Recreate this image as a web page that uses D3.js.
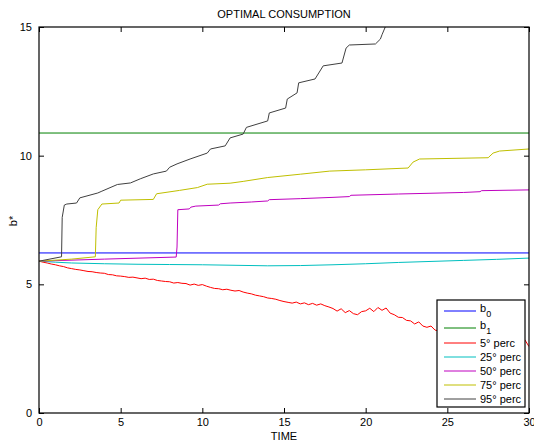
<!DOCTYPE html>
<html><head><meta charset="utf-8">
<script src="https://cdn.jsdelivr.net/npm/d3@7"></script>
<style>
body{margin:0;background:#fff;}
svg{display:block;font-family:"Liberation Sans",Arial,sans-serif;}
</style></head>
<body><svg id="chart" width="534" height="442"></svg>
<script>
// ---- data ----
const title = "OPTIMAL CONSUMPTION";
const xLabel = "TIME";
const yLabel = "b*";
const xTicks = [0,5,10,15,20,25,30];
const yTicks = [0,5,10,15];

const b0 = 6.22;
const b1 = 10.88;

const redStep = 0.25;
const perc5 = [5.90,5.86,5.83,5.79,5.76,5.72,5.69,5.64,5.61,5.58,5.56,5.53,5.50,5.49,5.46,5.44,5.43,5.38,5.37,5.33,
5.32,5.30,5.27,5.28,5.25,5.22,5.24,5.19,5.20,5.15,5.13,5.11,5.10,5.05,5.07,5.04,5.03,4.97,5.01,4.96,
4.99,4.93,4.88,4.84,4.83,4.79,4.81,4.77,4.74,4.76,4.70,4.66,4.63,4.58,4.55,4.52,4.47,4.45,4.42,4.37,
4.33,4.30,4.27,4.31,4.24,4.28,4.21,4.26,4.19,4.24,4.17,4.12,4.06,3.96,4.05,3.90,3.98,3.86,3.82,3.94,
3.97,4.07,3.94,4.10,3.99,4.08,3.88,3.82,3.72,3.71,3.60,3.58,3.46,3.54,3.38,3.33,3.38,3.22,3.19,3.24,
3.10,3.18,3.03,3.11,2.96,3.05,2.94,3.02,2.90,2.99,2.86,2.95,2.82,2.90,2.77,2.85,2.72,2.80,2.68,2.84,2.58];

const perc25T = [0,1,2,4,6,8,10,12,14,16,18,20,22,24,26,28,30];
const perc25V = [5.90,5.86,5.83,5.80,5.78,5.77,5.76,5.74,5.72,5.73,5.76,5.80,5.85,5.89,5.93,5.97,6.02];

const perc50T = [0,4,8.4,8.45,8.5,9.2,9.3,9.6,11.0,11.1,11.7,13,14,14.1,16,18,19,19.1,22,24,26,27,27.1,30];
const perc50V = [5.90,5.98,6.06,6.45,7.90,7.93,8.00,8.04,8.08,8.13,8.16,8.20,8.24,8.29,8.33,8.38,8.41,8.46,8.51,8.54,8.57,8.60,8.64,8.67];

const perc75T = [0,2,3.45,3.5,3.6,3.85,4.9,5.0,7.0,7.2,8.6,9.7,10.3,11.7,12.5,14,16,17.8,20,22.6,22.9,23.3,27.5,27.8,28.2,30];
const perc75V = [5.90,5.98,6.07,7.20,7.90,8.12,8.16,8.27,8.30,8.52,8.65,8.76,8.89,8.93,9.00,9.15,9.28,9.40,9.45,9.52,9.75,9.87,9.92,10.10,10.18,10.26];

const perc95T = [0,1.38,1.42,1.55,1.7,2.3,2.5,3.6,3.85,4.8,5.6,6.2,7.0,7.8,8.0,8.45,9.25,10.3,10.5,11.4,11.7,12.5,12.7,14.0,14.1,15.1,15.2,15.8,15.9,16.9,17.4,18.55,18.8,19.0,20.6,20.9,21.0,21.2,21.5];
const perc95V = [5.90,6.07,7.60,8.08,8.12,8.16,8.36,8.55,8.62,8.88,8.94,9.10,9.29,9.40,9.55,9.68,9.87,10.10,10.26,10.38,10.69,10.84,11.10,11.35,11.66,11.85,12.20,12.44,12.83,12.98,13.49,13.60,14.18,14.30,14.34,14.53,14.70,15.00,15.40];

const legendLabels = [["b","0"],["b","1"],["5° perc"],["25° perc"],["50° perc"],["75° perc"],["95° perc"]];
const colors = ["#0000ff","#008000","#ff0000","#00bfbf","#bf00bf","#bfbf00","#404040"];

// ---- layout ----
const svg = d3.select("#chart");
const L = 39, R = 529, T = 27, B = 413;
const x = d3.scaleLinear().domain([0,30]).range([L,R]);
const y = d3.scaleLinear().domain([0,15]).range([B,T]);

svg.append("defs").append("clipPath").attr("id","clip")
  .append("rect").attr("x",L).attr("y",T).attr("width",R-L).attr("height",B-T);

const line = d3.line().x(d=>x(d[0])).y(d=>y(d[1]));
const g = svg.append("g").attr("clip-path","url(#clip)");

const series = [
  [[0,b0],[30,b0]],
  [[0,b1],[30,b1]],
  perc5.map((v,i)=>[i*redStep,v]),
  perc25T.map((t,i)=>[t,perc25V[i]]),
  perc50T.map((t,i)=>[t,perc50V[i]]),
  perc75T.map((t,i)=>[t,perc75V[i]]),
  perc95T.map((t,i)=>[t,perc95V[i]])
];
series.forEach((s,i)=>{
  g.append("path").datum(s).attr("d",line).attr("fill","none")
   .attr("stroke",colors[i]).attr("stroke-width",1);
});

// axes box
svg.append("rect").attr("x",L).attr("y",T).attr("width",R-L).attr("height",B-T)
  .attr("fill","none").attr("stroke","#000").attr("stroke-width",1.2);

const fs = 11;
const xa = svg.append("g").attr("transform",`translate(0,${B})`)
  .call(d3.axisBottom(x).tickValues(xTicks).tickSize(-5).tickPadding(5).tickFormat(d3.format("d")));
const xt = svg.append("g").attr("transform",`translate(0,${T})`)
  .call(d3.axisTop(x).tickValues(xTicks).tickSize(-5).tickFormat(""));
const ya = svg.append("g").attr("transform",`translate(${L},0)`)
  .call(d3.axisLeft(y).tickValues(yTicks).tickSize(-5).tickPadding(7).tickFormat(d3.format("d")));
const yr = svg.append("g").attr("transform",`translate(${R},0)`)
  .call(d3.axisRight(y).tickValues(yTicks).tickSize(-5).tickFormat(""));
[xa,xt,ya,yr].forEach(a=>{
  a.select(".domain").remove();
  a.selectAll("line").attr("stroke","#000");
  a.selectAll("text").attr("font-size",fs).attr("font-family","Liberation Sans, Arial, sans-serif").attr("fill","#000");
});

svg.append("text").attr("x",(L+R)/2).attr("y",18).attr("text-anchor","middle")
  .attr("font-size",fs).text(title);
svg.append("text").attr("x",(L+R)/2).attr("y",440).attr("text-anchor","middle")
  .attr("font-size",fs).text(xLabel);
svg.append("text").attr("transform","translate(17,221) rotate(-90)").attr("text-anchor","middle")
  .attr("font-size",fs).text(yLabel);

// legend
const lx = 437, ly = 300, lw = 88, lh = 107;
const lg = svg.append("g");
lg.append("rect").attr("x",lx).attr("y",ly).attr("width",lw).attr("height",lh)
  .attr("fill","#fff").attr("stroke","#000").attr("stroke-width",1.2);
const rowY = [311,328,343,357,371,385,399];
legendLabels.forEach((lab,i)=>{
  lg.append("line").attr("x1",444).attr("x2",476).attr("y1",rowY[i]).attr("y2",rowY[i])
    .attr("stroke",colors[i]).attr("stroke-width",1);
  const t = lg.append("text").attr("x",480).attr("y",rowY[i]+4).attr("font-size",fs);
  if(lab.length===2){
    t.attr("y",rowY[i]+1);
    t.append("tspan").text(lab[0]);
    t.append("tspan").attr("dy",5).attr("font-size",9).text(lab[1]);
  } else t.text(lab[0]);
});
</script></body></html>
